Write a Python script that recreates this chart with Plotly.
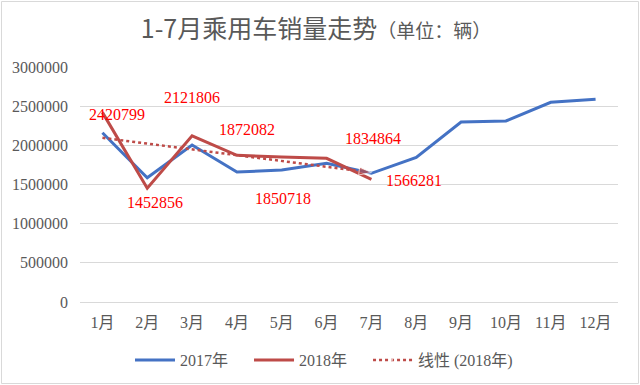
import numpy as np
import plotly.graph_objects as go

months = ["1月", "2月", "3月", "4月", "5月", "6月", "7月", "8月", "9月", "10月", "11月", "12月"]
sales_2017 = [2161000, 1587000, 2004000, 1660000, 1685000, 1770000, 1643000, 1847000, 2298000, 2311000, 2549000, 2587000]
sales_2018 = [2420799, 1452856, 2121806, 1872082, 1850718, 1834864, 1566281]
y_ticks = [0, 500000, 1000000, 1500000, 2000000, 2500000, 3000000]

# label shifts in px (style only)
label_shift = [(15, -2), (8, -14), (0, 38), (10, 26), (1, -41), (46, 20), (43, -1)]

BLUE = "#4472C4"
RED = "#BE4B48"
GRAY = "#595959"
SERIF = "Liberation Serif, Noto Sans CJK SC"
PAD = "\u00a0" * 4

x18 = months[:len(sales_2018)]
idx = np.arange(1, len(sales_2018) + 1)
k, b = np.polyfit(idx, sales_2018, 1)
trend = list(k * idx + b)

fig = go.Figure()
fig.add_trace(go.Scatter(x=months, y=sales_2017, mode="lines", name="2017年" + PAD,
                         line=dict(color=BLUE, width=3)))
fig.add_trace(go.Scatter(x=x18, y=sales_2018, mode="lines", name="2018年" + PAD,
                         line=dict(color=RED, width=3)))
fig.add_trace(go.Scatter(x=x18, y=trend, mode="lines+markers", name="线性 (2018年)",
                         line=dict(color=RED, width=2.5, dash="dot"),
                         marker=dict(symbol="arrow", size=[0] * (len(trend) - 1) + [13],
                                     angleref="previous", color=RED)))

for m, v, (dx, dy) in zip(x18, sales_2018, label_shift):
    fig.add_annotation(x=m, y=v, text=str(v), showarrow=False, xref="x", yref="y",
                       xshift=dx, yshift=dy,
                       font=dict(family=SERIF, size=16, color="#FF0000"))

L, R, T, B = 80, 22, 67, 83
W, H = 640, 385
pw, ph = W - L - R, H - T - B
fig.add_shape(type="rect", xref="paper", yref="paper",
              x0=(1.5 - L) / pw, x1=(W - 1.5 - L) / pw,
              y0=-(H - 1.5 - T - ph) / ph, y1=1 + (T - 1.5) / ph,
              line=dict(color="#D9D9D9", width=1))

fig.update_layout(
    width=W, height=H,
    margin=dict(l=L, r=R, t=T, b=B, autoexpand=False),
    paper_bgcolor="white", plot_bgcolor="white",
    title=dict(text="1-7月乘用车销量走势<span style='font-size:19px'>（单位：辆）</span>",
               x=316 / W, xanchor="center", xref="container", y=1 - 29 / H, yanchor="middle",
               yref="container",
               font=dict(family="Noto Sans CJK SC", size=25, color=GRAY)),
    legend=dict(orientation="h", x=324 / W, xanchor="center", xref="container",
                y=1 - 360 / H, yanchor="middle", yref="container",
                font=dict(family=SERIF, size=16, color=GRAY),
                itemwidth=40, tracegroupgap=0),
    font=dict(family=SERIF, size=16, color=GRAY),
)
fig.update_xaxes(type="category", range=[-0.5, 11.5], showgrid=False, showline=True,
                 linecolor="#D9D9D9", linewidth=1, ticks="", ticklabelstandoff=6,
                 tickfont=dict(family=SERIF, size=16, color=GRAY))
fig.update_yaxes(range=[0, 3000000], tickvals=y_ticks, ticktext=[str(t) for t in y_ticks],
                 showgrid=True, gridcolor="#D9D9D9", gridwidth=1, zeroline=False,
                 showline=False, ticks="", ticklabelstandoff=11,
                 tickfont=dict(family=SERIF, size=16, color=GRAY))

fig.write_html("out.html", config={"displayModeBar": False},
               post_script="document.body.style.margin='0';")
